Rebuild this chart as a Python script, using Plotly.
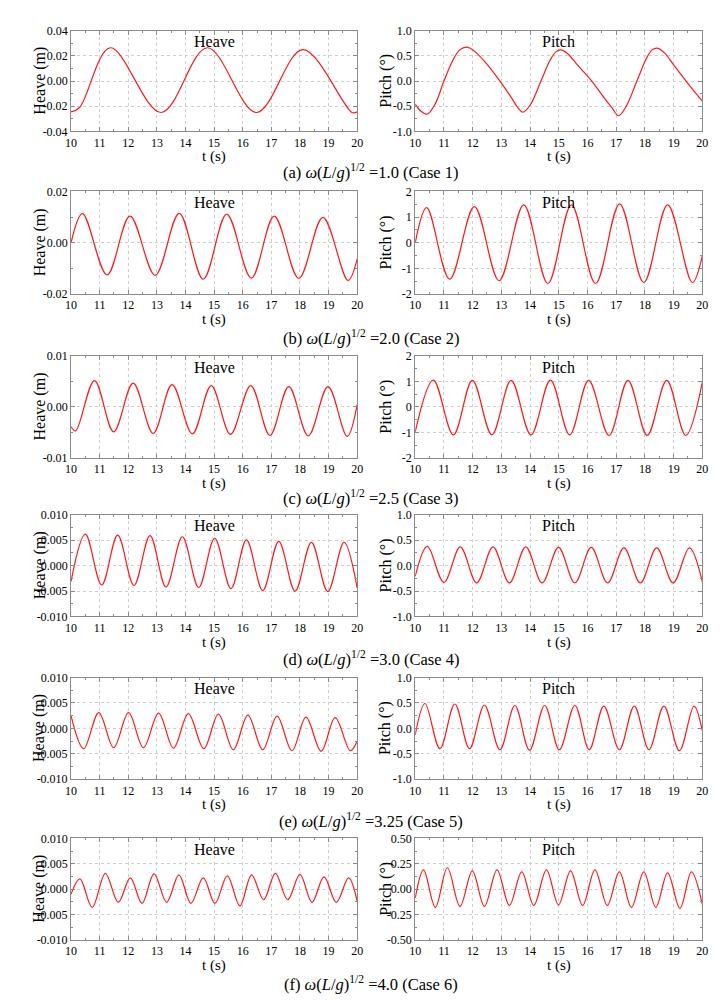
import plotly.graph_objects as go

# ---------------- data ----------------
time_ticklabels = ["10", "11", "12", "13", "14", "15", "16", "17", "18", "19", "20"]

case_letters = ["(a)", "(b)", "(c)", "(d)", "(e)", "(f)"]
omega_values = ["1.0", "2.0", "2.5", "3.0", "3.25", "4.0"]
case_numbers = ["1", "2", "3", "4", "5", "6"]

# Case 1
t_heave_1 = [10.0, 10.3, 11.37, 13.15, 14.76, 16.48, 18.1, 19.82, 20.0]
v_heave_1 = [-0.0245, -0.021, 0.0265, -0.025, 0.0265, -0.025, 0.025, -0.025, -0.0245]
t_pitch_1 = [10.0, 10.2, 10.42, 10.7, 11.0, 11.3, 11.55, 11.8, 12.05, 12.4, 12.95, 13.35, 13.55,
             13.75, 14.0, 14.38, 14.7, 14.9, 15.07, 15.3, 15.65, 16.15, 16.6, 16.85, 17.08,
             17.35, 17.72, 18.05, 18.25, 18.43, 18.7, 19.0, 19.5, 20.0]
v_pitch_1 = [-0.46, -0.60, -0.66, -0.45, 0.0, 0.40, 0.62, 0.675, 0.60, 0.40, 0.0, -0.33, -0.51,
             -0.62, -0.48, 0.0, 0.42, 0.58, 0.62, 0.55, 0.32, 0.0, -0.35, -0.53, -0.69,
             -0.50, 0.0, 0.45, 0.62, 0.655, 0.55, 0.32, -0.05, -0.40]

# Case 2
t_heave_2 = [10.0, 10.4, 11.26, 12.06, 12.94, 13.78, 14.62, 15.44, 16.3, 17.1, 17.96, 18.8, 19.68, 20.0]
v_heave_2 = [0.0, 0.0114, -0.0125, 0.0104, -0.0127, 0.0115, -0.0142, 0.0112, -0.0138, 0.0104,
             -0.0139, 0.0099, -0.0147, -0.0063]
t_pitch_2 = [10.0, 10.4, 11.2, 12.06, 12.92, 13.78, 14.62, 15.44, 16.28, 17.12, 17.96, 18.79, 19.65, 20.0]
v_pitch_2 = [0.0, 1.37, -1.42, 1.41, -1.48, 1.48, -1.59, 1.48, -1.59, 1.52, -1.55, 1.48, -1.55, -0.5]

# Case 3
t_heave_3 = [10.0, 10.16, 10.82, 11.49, 12.17, 12.87, 13.53, 14.24, 14.9, 15.57, 16.28, 16.95,
             17.61, 18.29, 18.98, 19.65, 20.0]
v_heave_3 = [-0.0039, -0.0047, 0.0052, -0.0049, 0.0047, -0.0052, 0.0044, -0.0053, 0.0042, -0.0054,
             0.0042, -0.0056, 0.0040, -0.0057, 0.0040, -0.0058, 0.0005]
t_pitch_3 = [10.0, 10.63, 11.33, 11.99, 12.67, 13.34, 14.03, 14.71, 15.38, 16.04, 16.75, 17.41,
             18.08, 18.76, 19.42, 20.0]
v_pitch_3 = [-0.98, 1.06, -1.1, 1.05, -1.1, 1.05, -1.1, 1.06, -1.1, 1.05, -1.12, 1.05, -1.12,
             1.05, -1.12, 0.98]

# Case 4
t_heave_4 = [10.0, 10.5, 11.07, 11.63, 12.2, 12.76, 13.32, 13.89, 14.46, 15.02, 15.59, 16.13,
             16.7, 17.26, 17.83, 18.4, 18.97, 19.54, 20.0]
v_heave_4 = [-0.0031, 0.0062, -0.0038, 0.0060, -0.0039, 0.0059, -0.0042, 0.0057, -0.0043, 0.0054,
             -0.0045, 0.0051, -0.0049, 0.0048, -0.0050, 0.0046, -0.0051, 0.0046, -0.0044]
t_pitch_4 = [10.0, 10.42, 11.0, 11.57, 12.14, 12.71, 13.28, 13.85, 14.42, 14.99, 15.56, 16.13,
             16.7, 17.27, 17.84, 18.41, 18.98, 19.55, 20.0]
v_pitch_4 = [-0.21, 0.38, -0.33, 0.37, -0.34, 0.37, -0.34, 0.37, -0.34, 0.36, -0.34, 0.36, -0.34,
             0.35, -0.34, 0.35, -0.34, 0.35, -0.32]

# Case 5
t_heave_5 = [10.0, 10.44, 10.97, 11.49, 12.01, 12.53, 13.06, 13.58, 14.1, 14.64, 15.15, 15.67,
             16.18, 16.7, 17.2, 17.72, 18.21, 18.74, 19.23, 19.76, 20.0]
v_heave_5 = [0.0025, -0.0040, 0.0031, -0.0038, 0.0031, -0.0038, 0.0030, -0.0039, 0.0029, -0.0040,
             0.0028, -0.0042, 0.0026, -0.0042, 0.0024, -0.0044, 0.0022, -0.0045, 0.0021, -0.0044,
             -0.0025]
t_pitch_5 = [10.0, 10.34, 10.86, 11.38, 11.89, 12.41, 12.95, 13.47, 13.98, 14.51, 15.02, 15.56,
             16.06, 16.57, 17.11, 17.63, 18.14, 18.66, 19.2, 19.71, 20.0]
v_pitch_5 = [-0.13, 0.49, -0.40, 0.48, -0.40, 0.455, -0.42, 0.45, -0.43, 0.45, -0.42, 0.45, -0.42,
             0.44, -0.42, 0.44, -0.42, 0.44, -0.44, 0.44, -0.05]

# Case 6
t_heave_6 = [10.0, 10.31, 10.74, 11.2, 11.65, 12.07, 12.48, 12.9, 13.34, 13.77, 14.19, 14.62,
             15.03, 15.46, 15.9, 16.31, 16.73, 17.14, 17.57, 18.0, 18.42, 18.84, 19.27, 19.7, 20.0]
v_heave_6 = [-0.001, 0.0020, -0.0036, 0.0031, -0.0026, 0.0022, -0.0028, 0.0030, -0.0026, 0.0028,
             -0.0028, 0.0022, -0.0028, 0.0026, -0.0033, 0.0028, -0.0021, 0.0031, -0.0021, 0.0029,
             -0.0026, 0.0024, -0.0026, 0.0022, -0.0024]
t_pitch_6 = [10.0, 10.29, 10.7, 11.12, 11.56, 11.99, 12.41, 12.85, 13.28, 13.71, 14.13, 14.57,
             14.99, 15.41, 15.83, 16.26, 16.69, 17.11, 17.53, 17.96, 18.38, 18.79, 19.22, 19.62, 20.0]
v_pitch_6 = [-0.09, 0.19, -0.18, 0.21, -0.17, 0.18, -0.17, 0.19, -0.16, 0.17, -0.16, 0.19, -0.155,
             0.18, -0.16, 0.19, -0.16, 0.17, -0.18, 0.17, -0.18, 0.16, -0.19, 0.17, -0.15]

# y tick labels per panel
heave_ticks_1 = ["-0.04", "-0.02", "0.00", "0.02", "0.04"]
pitch_ticks_1 = ["-1.0", "-0.5", "0.0", "0.5", "1.0"]
heave_ticks_2 = ["-0.02", "0.00", "0.02"]
pitch_ticks_2 = ["-2", "-1", "0", "1", "2"]
heave_ticks_3 = ["-0.01", "0.00", "0.01"]
pitch_ticks_3 = ["-2", "-1", "0", "1", "2"]
heave_ticks_4 = ["-0.010", "-0.005", "0.000", "0.005", "0.010"]
pitch_ticks_4 = ["-1.0", "-0.5", "0.0", "0.5", "1.0"]
heave_ticks_5 = ["-0.010", "-0.005", "0.000", "0.005", "0.010"]
pitch_ticks_5 = ["-1.0", "-0.5", "0.0", "0.5", "1.0"]
heave_ticks_6 = ["-0.010", "-0.005", "0.000", "0.005", "0.010"]
pitch_ticks_6 = ["-0.50", "-0.25", "0.00", "0.25", "0.50"]

# ---------------- layout helpers ----------------
W, H = 721, 1000
FONT = "Liberation Serif"
FRAME = "#8a8a8a"
GRID = "#cfcfcf"
RED = "#ff1a1a"

row_top_px = [16, 179, 346, 507, 672, 835]
row_bot_px = [118, 283, 449, 610, 775, 938]
col_x_px = [(58, 349), (408, 700)]
caption_y_px = [159, 327, 489, 653, 817, 982]

heave_series = [(t_heave_1, v_heave_1), (t_heave_2, v_heave_2), (t_heave_3, v_heave_3),
                (t_heave_4, v_heave_4), (t_heave_5, v_heave_5), (t_heave_6, v_heave_6)]
pitch_series = [(t_pitch_1, v_pitch_1), (t_pitch_2, v_pitch_2), (t_pitch_3, v_pitch_3),
                (t_pitch_4, v_pitch_4), (t_pitch_5, v_pitch_5), (t_pitch_6, v_pitch_6)]
heave_ticks = [heave_ticks_1, heave_ticks_2, heave_ticks_3, heave_ticks_4, heave_ticks_5, heave_ticks_6]
pitch_ticks = [pitch_ticks_1, pitch_ticks_2, pitch_ticks_3, pitch_ticks_4, pitch_ticks_5, pitch_ticks_6]


def fx(p):
    return p / W


def fy(p):
    return 1 - p / H


fig = go.Figure()
layout = {}
annotations = []

time_vals = [float(s) for s in time_ticklabels]

idx = 0
for r in range(6):
    for c in range(2):
        idx += 1
        if c == 0:
            t, v = heave_series[r]
            labels = heave_ticks[r]
            title = "Heave"
            ytitle = "Heave (m)"
            ytitle_x = 26
        else:
            t, v = pitch_series[r]
            labels = pitch_ticks[r]
            title = "Pitch"
            ytitle = "Pitch (°)"
            ytitle_x = 378
        xa = "x" if idx == 1 else f"x{idx}"
        ya = "y" if idx == 1 else f"y{idx}"
        fig.add_trace(go.Scatter(x=t, y=v, mode="lines", xaxis=xa, yaxis=ya,
                                 line=dict(color=RED, width=1.2, shape="spline", smoothing=1.0),
                                 showlegend=False, hoverinfo="skip"))
        yvals = [float(s) for s in labels]
        ymin, ymax = min(yvals), max(yvals)
        ystep = yvals[1] - yvals[0]
        x0, x1 = col_x_px[c]
        top, bot = row_top_px[r], row_bot_px[r]
        common = dict(showline=True, linecolor=FRAME, linewidth=1, mirror="allticks",
                      ticks="inside", ticklen=4, tickcolor=FRAME, tickwidth=1,
                      showgrid=True, gridcolor=GRID, griddash="dot", gridwidth=1,
                      zeroline=False, tickfont=dict(family=FONT, size=12, color="black"),
                      fixedrange=True)
        layout["xaxis" if idx == 1 else f"xaxis{idx}"] = dict(
            common, domain=[fx(x0), fx(x1)], anchor=ya, range=[10, 20],
            tickmode="array", tickvals=time_vals, ticktext=time_ticklabels, ticklabelstandoff=0,
            minor=dict(ticks="inside", ticklen=2, tickcolor=FRAME, tickmode="linear",
                       tick0=10, dtick=0.5, showgrid=False))
        layout["yaxis" if idx == 1 else f"yaxis{idx}"] = dict(
            common, domain=[fy(bot), fy(top)], anchor=xa, range=[ymin, ymax],
            tickmode="array", tickvals=yvals, ticktext=labels,
            minor=dict(ticks="inside", ticklen=2, tickcolor=FRAME, tickmode="linear",
                       tick0=ymin, dtick=ystep / 2, showgrid=False))
        cx = (x0 + x1) / 2
        annotations.append(dict(text=title, x=fx(cx), y=fy(top + 11), xref="paper", yref="paper",
                                showarrow=False, xanchor="center", yanchor="middle",
                                font=dict(family=FONT, size=16, color="black")))
        annotations.append(dict(text="t (s)", x=fx(cx), y=fy(bot + 26), xref="paper", yref="paper",
                                showarrow=False, xanchor="center", yanchor="middle",
                                font=dict(family=FONT, size=15, color="black")))
        annotations.append(dict(text=ytitle, x=fx(ytitle_x), y=fy((top + bot) / 2), xref="paper",
                                yref="paper", showarrow=False, textangle=-90,
                                xanchor="center", yanchor="middle",
                                font=dict(family=FONT, size=16, color="black")))
    cap = (f"{case_letters[r]} <i>ω</i>(<i>L</i>/<i>g</i>)<sup>1/2</sup> ={omega_values[r]} "
           f"(Case {case_numbers[r]})")
    annotations.append(dict(text=cap, x=fx(363), y=fy(caption_y_px[r]), xref="paper", yref="paper",
                            showarrow=False, xanchor="center", yanchor="middle",
                            font=dict(family=FONT, size=16.5, color="black")))

fig.update_layout(**layout)
fig.update_layout(width=W, height=H, margin=dict(l=0, r=0, t=0, b=0),
                  paper_bgcolor="white", plot_bgcolor="white",
                  annotations=annotations, showlegend=False,
                  font=dict(family=FONT, color="black"))

fig.write_html("out.html")
